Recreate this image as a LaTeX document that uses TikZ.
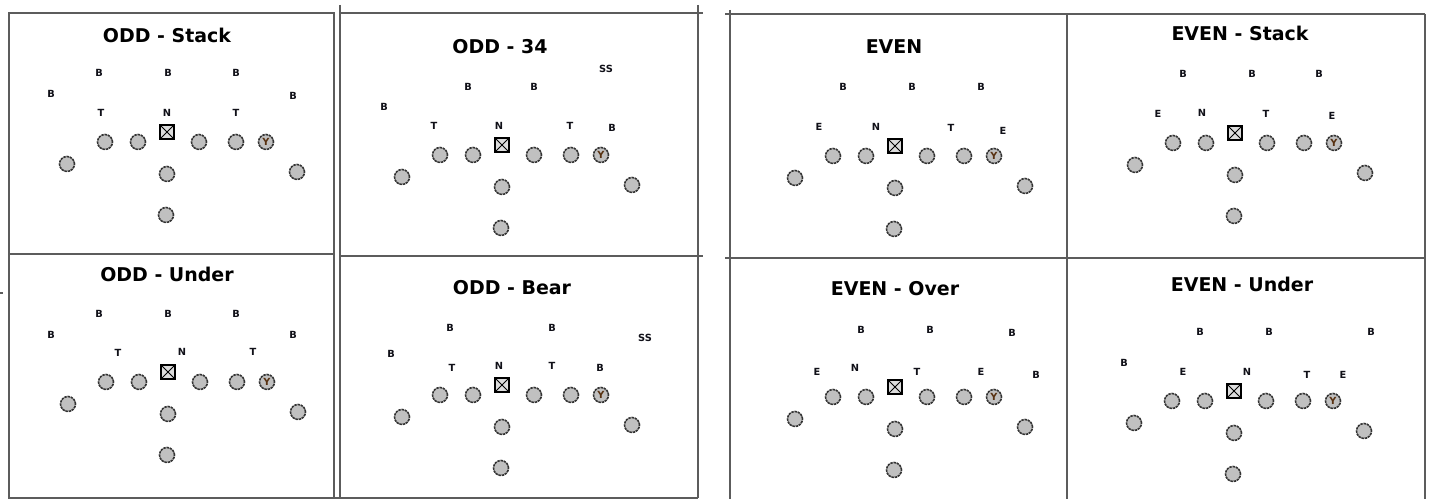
\documentclass[tikz,border=0pt]{standalone}
\usepackage{fontspec}
\setmainfont{DejaVu Sans}
\definecolor{Frame}{HTML}{5C5C5C}
\definecolor{Ink}{HTML}{101018}
\definecolor{Body}{HTML}{C0C0C0}
\definecolor{Rim}{HTML}{333333}
\tikzset{
  panel/.style={draw=Frame,line width=1.1pt},
  title/.style={font=\fontsize{10.8}{12}\selectfont\bfseries,text=black,inner sep=0pt},
  def/.style={font=\fontsize{5.6}{6}\selectfont\bfseries,text=Ink,inner sep=0pt},
  man/.style={circle,draw=Rim,fill=Body,line width=0.9pt,dash pattern=on 1.4pt off 0.45pt,minimum size=0.3cm,inner sep=0pt,font=\fontsize{5.6}{6}\selectfont\bfseries,text=Ink!70!orange},
  ctr/.style={rectangle,draw=black,fill=Body!55,line width=1pt,minimum size=0.28cm,inner sep=0pt,
    path picture={\draw[line width=0.5pt] (path picture bounding box.north west)--(path picture bounding box.south east)
      (path picture bounding box.north east)--(path picture bounding box.south west);}}
}
% offense, placed from the ball
\newcommand{\offense}[2]{%
  \begin{scope}[shift={#2}]
    \node[ctr] (#1c) at (0,0) {};
    \node[man] (#1lt) at (-62,10) {};
    \node[man] (#1lg) at (-29,10) {};
    \node[man] (#1rg) at (32,10) {};
    \node[man] (#1rt) at (69,10) {};
    \node[man] (#1y) at (99,10) {Y};
    \node[man] (#1x) at (-100,32) {};
    \node[man] (#1z) at (130,40) {};
    \node[man] (#1q) at (0,42) {};
    \node[man] (#1h) at (-1,83) {};
  \end{scope}}

\begin{document}
\begin{tikzpicture}[x=0.02cm,y=-0.02cm]
  \useasboundingbox (0,0) rectangle (1433,499);
  % frames
  \draw[panel] (9,13) rectangle (334,498);
  \draw[panel] (9,254) -- (334,254);
  \draw[panel] (340,5) -- (340,498);
  \draw[panel] (698,5) -- (698,498);
  \draw[panel] (340,13) -- (703,13);
  \draw[panel] (340,256) -- (703,256);
  \draw[panel] (334,498) -- (698,498);
  \draw[panel] (730,10) -- (730,499);
  \draw[panel] (725,14) -- (1425,14);
  \draw[panel] (1067,14) -- (1067,499);
  \draw[panel] (1425,14) -- (1425,499);
  \draw[panel] (725,258) -- (1425,258);
  \draw[panel] (0,293) -- (3,293);

  % ODD - Stack
  \node[title] (p1) at (167,35) {ODD - Stack};
  \node[def] (p1b1) at (99,73) {B}; \node[def] (p1b2) at (168,73) {B}; \node[def] (p1b3) at (236,73) {B};
  \node[def] (p1b4) at (51,94) {B}; \node[def] (p1b5) at (293,96) {B};
  \node[def] (p1t1) at (101,113) {T}; \node[def] (p1n) at (167,113) {N}; \node[def] (p1t2) at (236,113) {T};
  \offense{p1}{(167,132)}

  % ODD - 34
  \node[title] (p2) at (500,47) {ODD - 34};
  \node[def] (p2s) at (606,69) {SS};
  \node[def] (p2b1) at (468,87) {B}; \node[def] (p2b2) at (534,87) {B}; \node[def] (p2b3) at (384,107) {B};
  \node[def] (p2t1) at (434,126) {T}; \node[def] (p2n) at (499,126) {N}; \node[def] (p2t2) at (570,126) {T};
  \node[def] (p2b4) at (612,128) {B};
  \offense{p2}{(502,145)}

  % EVEN
  \node[title] (p3) at (894,47) {EVEN};
  \node[def] (p3b1) at (843,87) {B}; \node[def] (p3b2) at (912,87) {B}; \node[def] (p3b3) at (981,87) {B};
  \node[def] (p3e1) at (819,127) {E}; \node[def] (p3n) at (876,127) {N}; \node[def] (p3t) at (951,128) {T};
  \node[def] (p3e2) at (1003,131) {E};
  \offense{p3}{(895,146)}

  % EVEN - Stack
  \node[title] (p4) at (1240,33) {EVEN - Stack};
  \node[def] (p4b1) at (1183,74) {B}; \node[def] (p4b2) at (1252,74) {B}; \node[def] (p4b3) at (1319,74) {B};
  \node[def] (p4e1) at (1158,114) {E}; \node[def] (p4n) at (1202,113) {N}; \node[def] (p4t) at (1266,114) {T};
  \node[def] (p4e2) at (1332,116) {E};
  \offense{p4}{(1235,133)}

  % ODD - Under
  \node[title] (p5) at (167,274) {ODD - Under};
  \node[def] (p5b1) at (99,314) {B}; \node[def] (p5b2) at (168,314) {B}; \node[def] (p5b3) at (236,314) {B};
  \node[def] (p5b4) at (51,335) {B}; \node[def] (p5b5) at (293,335) {B};
  \node[def] (p5t1) at (118,353) {T}; \node[def] (p5n) at (182,352) {N}; \node[def] (p5t2) at (253,352) {T};
  \offense{p5}{(168,372)}

  % ODD - Bear
  \node[title] (p6) at (512,288) {ODD - Bear};
  \node[def] (p6b1) at (450,328) {B}; \node[def] (p6b2) at (552,328) {B}; \node[def] (p6s) at (645,338) {SS};
  \node[def] (p6b3) at (391,354) {B};
  \node[def] (p6t1) at (452,368) {T}; \node[def] (p6n) at (499,366) {N}; \node[def] (p6t2) at (552,366) {T};
  \node[def] (p6b4) at (600,368) {B};
  \offense{p6}{(502,385)}

  % EVEN - Over
  \node[title] (p7) at (895,289) {EVEN - Over};
  \node[def] (p7b1) at (861,330) {B}; \node[def] (p7b2) at (930,330) {B}; \node[def] (p7b3) at (1012,333) {B};
  \node[def] (p7e1) at (817,372) {E}; \node[def] (p7n) at (855,368) {N}; \node[def] (p7t) at (917,372) {T};
  \node[def] (p7e2) at (981,372) {E}; \node[def] (p7b4) at (1036,375) {B};
  \offense{p7}{(895,387)}

  % EVEN - Under
  \node[title] (p8) at (1242,284) {EVEN - Under};
  \node[def] (p8b1) at (1200,332) {B}; \node[def] (p8b2) at (1269,332) {B}; \node[def] (p8b3) at (1371,332) {B};
  \node[def] (p8b4) at (1124,363) {B};
  \node[def] (p8e1) at (1183,372) {E}; \node[def] (p8n) at (1247,372) {N}; \node[def] (p8t) at (1307,375) {T};
  \node[def] (p8e2) at (1343,375) {E};
  \offense{p8}{(1234,391)}
\end{tikzpicture}
\end{document}
